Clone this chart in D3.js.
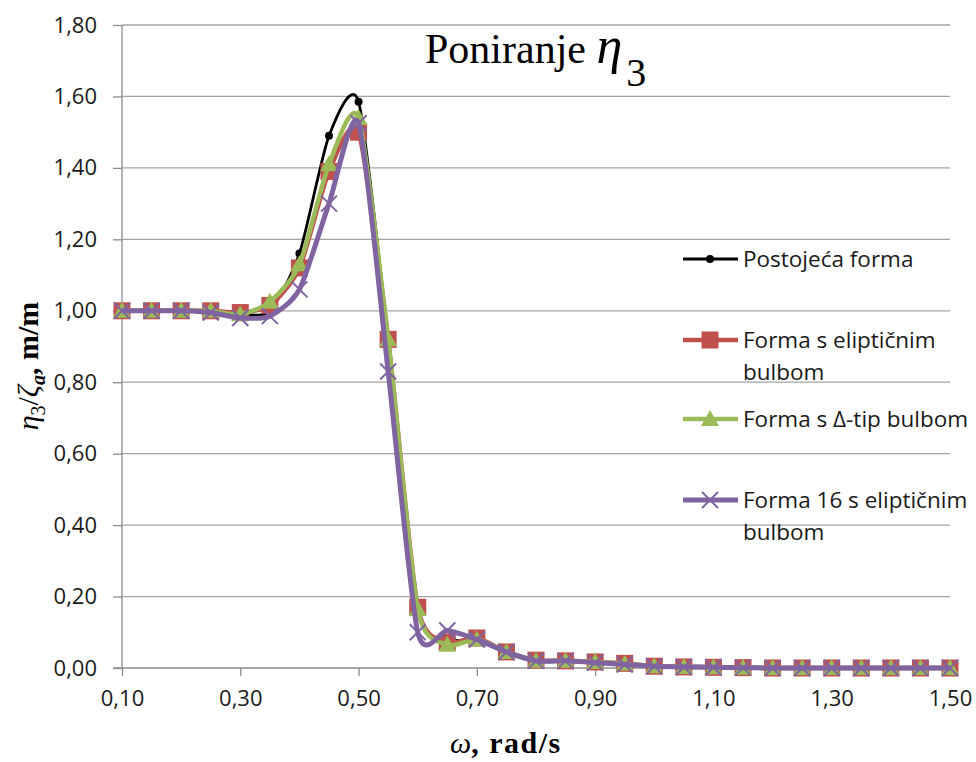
<!DOCTYPE html>
<html>
<head>
<meta charset="utf-8">
<script src="https://cdn.jsdelivr.net/npm/d3@7"></script>
<style>
  body { margin: 0; background: #fff; }
  svg { display: block; }
</style>
</head>
<body>
<div id="chart"></div>
<script>
// values
const omega = [0.10, 0.15, 0.20, 0.25, 0.30, 0.35, 0.40, 0.45, 0.50, 0.55, 0.60, 0.65, 0.70, 0.75, 0.80,
               0.85, 0.90, 0.95, 1.00, 1.05, 1.10, 1.15, 1.20, 1.25, 1.30, 1.35, 1.40, 1.45, 1.50];
const postojeca = [1.00, 1.00, 1.00, 1.00, 0.99, 1.00, 1.16, 1.49, 1.585, 0.92, 0.16, 0.08, 0.08, 0.045, 0.02,
                   0.02, 0.017, 0.012, 0.005, 0.003, 0.002, 0.001, 0, 0, 0, 0, 0, 0, 0];
const elipticni = [1.00, 1.00, 1.00, 1.00, 0.995, 1.015, 1.12, 1.39, 1.50, 0.92, 0.17, 0.073, 0.084, 0.045, 0.022,
                   0.02, 0.017, 0.013, 0.005, 0.003, 0.002, 0.001, 0, 0, 0, 0, 0, 0, 0];
const deltaTip = [1.00, 1.00, 1.00, 1.00, 0.99, 1.025, 1.13, 1.41, 1.54, 0.92, 0.165, 0.065, 0.08, 0.045, 0.02,
                  0.02, 0.017, 0.012, 0.005, 0.003, 0.002, 0.001, 0, 0, 0, 0, 0, 0, 0];
const forma16 = [1.00, 1.00, 1.00, 0.995, 0.98, 0.985, 1.06, 1.30, 1.525, 0.83, 0.10, 0.105, 0.08, 0.045, 0.02,
                 0.02, 0.015, 0.01, 0.005, 0.003, 0.002, 0.001, 0, 0, 0, 0, 0, 0, 0];
const yTicks = [0, 0.2, 0.4, 0.6, 0.8, 1.0, 1.2, 1.4, 1.6, 1.8];
const xTicks = [0.1, 0.3, 0.5, 0.7, 0.9, 1.1, 1.3, 1.5];

const seriesNames = ["Postojeća forma", "Forma s eliptičnim bulbom", "Forma s Δ-tip bulbom", "Forma 16 s eliptičnim bulbom"];

const width = 976;
const height = 762;
const plot = {left: 122, right: 950, top: 25, bottom: 668};

const svg = d3.select("#chart").append("svg")
    .attr("width", width)
    .attr("height", height);

const x = d3.scaleLinear().domain([0.1, 1.5]).range([plot.left, plot.right]);
const y = d3.scaleLinear().domain([0, 1.8]).range([plot.bottom, plot.top]);

const fmt = d3.formatLocale({decimal: ",", thousands: ".", grouping: [3], currency: ["", ""]}).format(".2f");
const tickFont = "'Open Sans', sans-serif";

// gridlines
svg.append("g").selectAll("line")
    .data(yTicks.filter(d => d > 0))
    .enter().append("line")
    .attr("x1", plot.left).attr("x2", plot.right)
    .attr("y1", d => y(d)).attr("y2", d => y(d))
    .attr("stroke", "#a3a3a3").attr("stroke-width", 1.3);

// y axis
const yAxis = svg.append("g")
    .attr("transform", `translate(${plot.left},0)`)
    .call(d3.axisLeft(y).tickValues(yTicks).tickFormat(fmt).tickSize(9).tickPadding(16));
// x axis
const xAxis = svg.append("g")
    .attr("transform", `translate(0,${plot.bottom})`)
    .call(d3.axisBottom(x).tickValues(xTicks).tickFormat(fmt).tickSize(8).tickSizeOuter(0).tickPadding(14));

[yAxis, xAxis].forEach(function(ax) {
    ax.select(".domain").attr("stroke", "#8c8c8c").attr("stroke-width", 1.3);
    ax.selectAll(".tick line").attr("stroke", "#8c8c8c").attr("stroke-width", 1.3);
    ax.selectAll(".tick text")
        .attr("font-family", tickFont)
        .attr("font-size", 22)
        .attr("fill", "#1a1a1a");
});
yAxis.select(".domain").attr("d", `M0,${plot.top}V${plot.bottom}`);
xAxis.select(".domain").attr("d", `M${plot.left - 9},0H${plot.right}`);

// series
const series = [
    {name: seriesNames[0], values: postojeca, color: "#000000", width: 2.8, marker: "circle"},
    {name: seriesNames[1], values: elipticni, color: "#C0504D", width: 4.5, marker: "square"},
    {name: seriesNames[2], values: deltaTip, color: "#9BBB59", width: 4.5, marker: "triangle"},
    {name: seriesNames[3], values: forma16, color: "#8064A2", width: 5, marker: "x"}
];

// smoothed like the spreadsheet, a bit tighter than plain Catmull-Rom
const line = d3.line()
    .x((d, i) => x(omega[i]))
    .y(d => y(d))
    .curve(d3.curveCardinal.tension(0.3));

function drawMarker(g, type, color) {
    if (type === "circle") {
        g.append("circle").attr("r", 4).attr("fill", color);
    } else if (type === "square") {
        g.append("rect").attr("x", -8.5).attr("y", -8.5).attr("width", 17).attr("height", 17)
            .attr("fill", color);
    } else if (type === "triangle") {
        g.append("path").attr("d", "M0,-9L9,7L-9,7Z").attr("fill", color);
    } else {
        g.append("path").attr("d", "M-8,-8L8,8M-8,8L8,-8")
            .attr("stroke", color).attr("stroke-width", 2).attr("fill", "none");
    }
}

series.forEach(function(s) {
    const g = svg.append("g");
    g.append("path")
        .attr("d", line(s.values))
        .attr("fill", "none")
        .attr("stroke", s.color)
        .attr("stroke-width", s.width)
        .attr("stroke-linejoin", "round");
    s.values.forEach(function(v, i) {
        const m = g.append("g").attr("transform", `translate(${x(omega[i])},${y(v)})`);
        drawMarker(m, s.marker, s.color);
    });
});

// legend
const legendRows = [[259], [340, 372], [419], [500, 532]];
const legendLines = [["Postojeća forma"], ["Forma s eliptičnim", "bulbom"], ["Forma s Δ-tip bulbom"], ["Forma 16 s eliptičnim", "bulbom"]];
series.forEach(function(s, i) {
    const ly = legendRows[i][0];
    const g = svg.append("g");
    g.append("line").attr("x1", 683).attr("x2", 738).attr("y1", ly).attr("y2", ly)
        .attr("stroke", s.color).attr("stroke-width", s.width);
    drawMarker(g.append("g").attr("transform", `translate(710,${ly})`), s.marker, s.color);
    legendLines[i].forEach(function(t, j) {
        g.append("text")
            .attr("x", 743).attr("y", legendRows[i][j] + 8)
            .attr("font-family", tickFont).attr("font-size", 22.5).attr("fill", "#1a1a1a")
            .text(t);
    });
});

// title
const title = svg.append("text")
    .attr("x", 425).attr("y", 63)
    .attr("font-family", "'Liberation Serif', serif")
    .attr("font-size", 42);
title.append("tspan").text("Poniranje ");
title.append("tspan").attr("font-style", "italic").attr("font-size", 52).text("η");
title.append("tspan").attr("dx", 4).attr("dy", 23).attr("font-size", 40).text("3");

// axis titles
const yTitle = svg.append("text")
    .attr("transform", "translate(38,366) rotate(-90)")
    .attr("text-anchor", "middle")
    .attr("font-family", "'Liberation Serif', serif")
    .attr("font-size", 30)
    .attr("font-weight", "bold");
yTitle.append("tspan").attr("font-style", "italic").attr("font-weight", "normal").text("η");
yTitle.append("tspan").attr("dy", 7).attr("font-size", 20).attr("font-weight", "normal").text("3");
yTitle.append("tspan").attr("dy", -7).attr("font-weight", "normal").text("/");
yTitle.append("tspan").attr("font-style", "italic").attr("font-weight", "normal").text("ζ");
yTitle.append("tspan").attr("dy", 7).attr("font-size", 20).attr("font-style", "italic").text("a");
yTitle.append("tspan").attr("dy", -7).text(", m/m");

const xTitle = svg.append("text")
    .attr("x", 450).attr("y", 753)
    .attr("font-family", "'Liberation Serif', serif")
    .attr("font-size", 30)
    .attr("font-weight", "bold");
xTitle.append("tspan").attr("font-style", "italic").attr("font-weight", "normal").text("ω");
xTitle.append("tspan").attr("letter-spacing", 1.5).text(",  rad/s");
</script>
</body>
</html>
